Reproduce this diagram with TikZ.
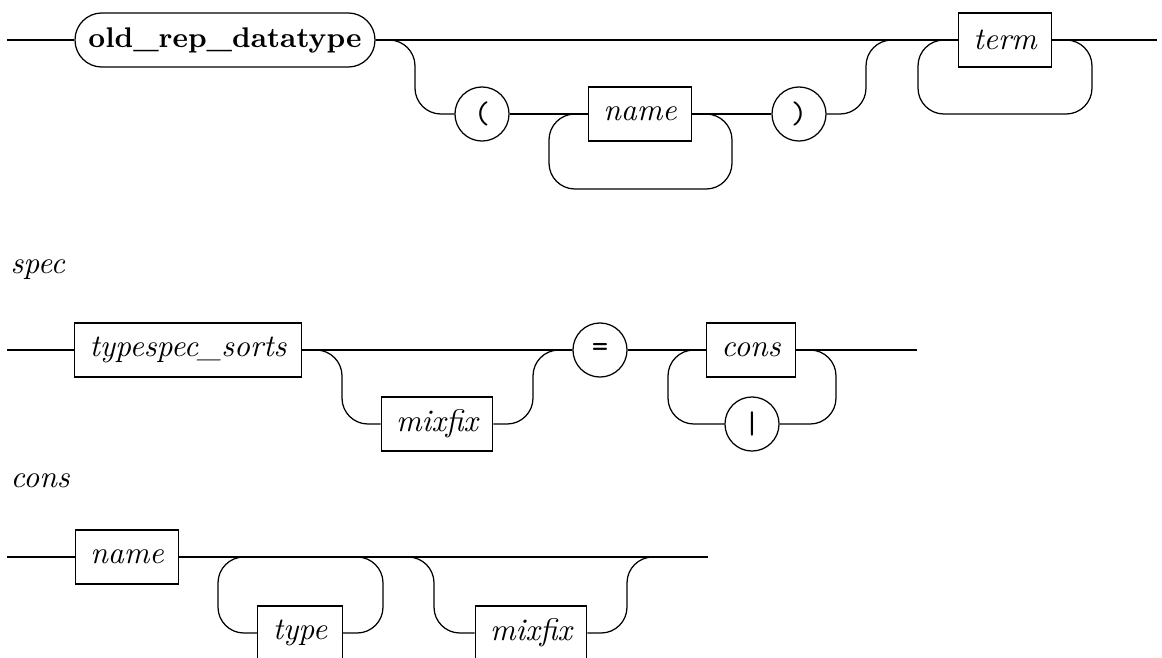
\documentclass[tikz,border=0pt]{standalone}
\usetikzlibrary{positioning}
\tikzset{ntbox/.style={rectangle,draw,minimum height=17.3pt,inner xsep=4.8pt,font=\itshape},
  kwbox/.style={rectangle,draw,rounded corners=8.6pt,minimum height=17.3pt,minimum width=96pt,inner xsep=1pt,font=\bfseries\fontsize{9.1}{11}\selectfont},
  tokcirc/.style={circle,draw,minimum size=17.3pt,inner sep=0pt,font=\ttfamily},
  lbl/.style={anchor=base west,inner sep=0pt,font=\itshape},
  track/.style={rounded corners=8.3pt}}

\begin{document}
\begin{tikzpicture}[x=0.32pt,y=-0.32pt]
\useasboundingbox (0,0) rectangle (1162,657);
% old_rep_datatype
\node[kwbox] (kw) at (225,40) {old\_rep\_datatype};
\node[tokcirc] (lp) at (482,114) {(};
\node[ntbox] (nm) at (640,114) {name};
\node[tokcirc] (rp) at (799,114) {)};
\node[ntbox] (tm) at (1005,40) {term};
\coordinate (s1) at (7,40);
\coordinate (e1) at (1157,40);
\draw (s1) -- (kw);
\draw (kw) -- (tm);
\draw (tm) -- (e1);
\draw[track] (kw.east) -- (415,40) -- (415,114) -- (lp);
\draw (lp) -- (nm);
\draw (nm) -- (rp);
\draw[track] (nm.east) -- (732,114) -- (732,189) -- (549,189) -- (549,114) -- (nm.west);
\draw[track] (rp) -- (866,114) -- (866,40) -- (tm.west);
\draw[track] (tm.east) -- (1092,40) -- (1092,114) -- (918,114) -- (918,40) -- (tm.west);
% spec
\node[lbl] (speclbl) at (10,273) {spec};
\node[ntbox] (ts) at (188,350) {typespec\_sorts};
\node[ntbox] (mx) at (437,424) {mixfix};
\node[tokcirc] (eq) at (600,350) {=};
\node[ntbox] (cs) at (751,350) {cons};
\node[tokcirc] (bar) at (752,424) {|};
\coordinate (s2) at (7,350);
\coordinate (e2) at (917,350);
\draw (s2) -- (ts);
\draw (ts) -- (eq);
\draw[track] (ts.east) -- (342,350) -- (342,424) -- (mx);
\draw[track] (mx) -- (533,424) -- (533,350) -- (eq.west);
\draw (eq) -- (cs);
\draw[track] (cs.east) -- (836,350) -- (836,424) -- (bar);
\draw[track] (bar) -- (668,424) -- (668,350) -- (cs.west);
\draw (cs) -- (e2);
% cons
\node[lbl] (conslbl) at (10,487) {cons};
\node[ntbox] (nm2) at (127,557) {name};
\node[ntbox] (ty) at (300,633) {type};
\node[ntbox] (mx2) at (531,633) {mixfix};
\coordinate (s3) at (7,557);
\coordinate (e3) at (708,557);
\coordinate (j1) at (250,557);
\coordinate (j2) at (350,557);
\coordinate (j3) at (400,557);
\coordinate (j4) at (660,557);
\draw (s3) -- (nm2);
\draw (nm2) -- (e3);
\draw[track] (ty) -- (218,633) -- (218,557) -- (j1);
\draw[track] (ty) -- (383,633) -- (383,557) -- (j2);
\draw[track] (j3) -- (434,557) -- (434,633) -- (mx2);
\draw[track] (mx2) -- (627,633) -- (627,557) -- (j4);
\end{tikzpicture}
\end{document}
